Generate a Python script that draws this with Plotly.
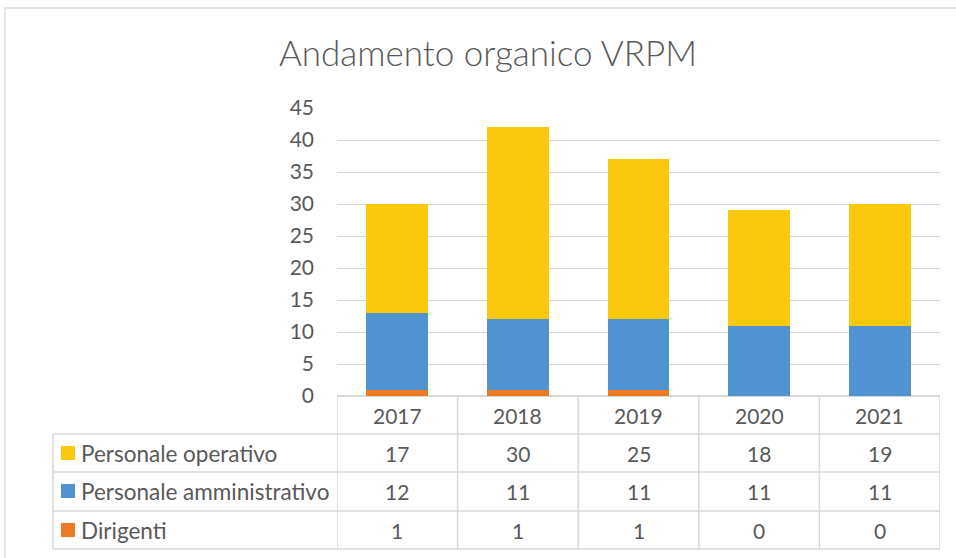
import plotly.graph_objects as go

years = ['2017', '2018', '2019', '2020', '2021']
operativo = [17, 30, 25, 18, 19]
amministrativo = [12, 11, 11, 11, 11]
dirigenti = [1, 1, 1, 0, 0]
series_names = ['Personale operativo', 'Personale amministrativo', 'Dirigenti']
colors = ['#FCC80E', '#4F94D0', '#EE7A26']

W, H = 956, 558
L, R, T, B = 337, 16, 108, 162
PW = W - L - R
PH = H - T - B
FONT = 'Lato'
GRAY = '#595959'
LINE = '#D9D9D9'
FS = 21

def px_x(p):
    return (p - L) / PW

def px_y(p):
    return (H - B - p) / PH

fig = go.Figure()
fig.add_trace(go.Bar(x=years, y=dirigenti, name=series_names[2], marker=dict(color=colors[2], line=dict(width=0))))
fig.add_trace(go.Bar(x=years, y=amministrativo, name=series_names[1], marker=dict(color=colors[1], line=dict(width=0))))
fig.add_trace(go.Bar(x=years, y=operativo, name=series_names[0], marker=dict(color=colors[0], line=dict(width=0))))

shapes = []
annotations = []

shapes.append(dict(type='rect', xref='paper', yref='paper', x0=px_x(5), x1=px_x(1000),
                   y0=px_y(8), y1=px_y(620), line=dict(color=LINE, width=1.3), layer='below'))

row_lines = [434, 472, 511, 549]
row_centers = [415, 453, 491, 530]

for yl in row_lines:
    shapes.append(dict(type='line', xref='paper', yref='paper', x0=px_x(53), x1=1,
                       y0=px_y(yl), y1=px_y(yl), line=dict(color=LINE, width=1.5)))
for i in range(len(years) + 1):
    shapes.append(dict(type='line', xref='x', yref='paper', x0=i - 0.5, x1=i - 0.5,
                       y0=px_y(396), y1=px_y(549), line=dict(color=LINE, width=1.5)))
shapes.append(dict(type='line', xref='paper', yref='paper', x0=px_x(53), x1=px_x(53),
                   y0=px_y(434), y1=px_y(549), line=dict(color=LINE, width=1.5)))

for i, yr in enumerate(years):
    annotations.append(dict(x=i, y=px_y(row_centers[0]), xref='x', yref='paper', text=yr,
                            showarrow=False, font=dict(family=FONT, size=FS, color=GRAY),
                            xanchor='center', yanchor='middle'))

table_rows = [operativo, amministrativo, dirigenti]
for r, (vals, name, col) in enumerate(zip(table_rows, series_names, colors)):
    yc = row_centers[r + 1]
    for i, v in enumerate(vals):
        annotations.append(dict(x=i, y=px_y(yc), xref='x', yref='paper', text=str(v),
                                showarrow=False, font=dict(family=FONT, size=FS, color=GRAY),
                                xanchor='center', yanchor='middle'))
    shapes.append(dict(type='rect', xref='paper', yref='paper', x0=px_x(61), x1=px_x(75),
                       y0=px_y(yc - 7), y1=px_y(yc + 7), fillcolor=col, line=dict(width=0)))
    annotations.append(dict(x=px_x(79), y=px_y(yc), xref='paper', yref='paper', text=name,
                            showarrow=False, font=dict(family=FONT, size=22.5, color=GRAY),
                            xanchor='left', yanchor='middle'))

fig.update_layout(
    width=W, height=H,
    margin=dict(l=L, r=R, t=T, b=B, pad=0),
    barmode='stack',
    bargap=0.486,
    showlegend=False,
    paper_bgcolor='white',
    plot_bgcolor='white',
    title=dict(text='Andamento organico VRPM', x=488 / W, xanchor='center', xref='container',
               y=1 - 54 / H, yref='container', yanchor='middle',
               font=dict(family=FONT, size=35, color=GRAY, weight=300)),
    xaxis=dict(showticklabels=False, showgrid=False, zeroline=False, showline=False,
               range=[-0.5, 4.5]),
    yaxis=dict(range=[0, 45], dtick=5, showgrid=True, gridcolor=LINE, gridwidth=1.3,
               zeroline=True, zerolinecolor=LINE, zerolinewidth=1.5, showline=False,
               ticks='', ticklabelstandoff=22,
               tickfont=dict(family=FONT, size=FS, color=GRAY)),
    shapes=shapes,
    annotations=annotations,
)

fig.write_html('out.html', config={'displayModeBar': False},
               post_script="document.body.style.margin='0';")
